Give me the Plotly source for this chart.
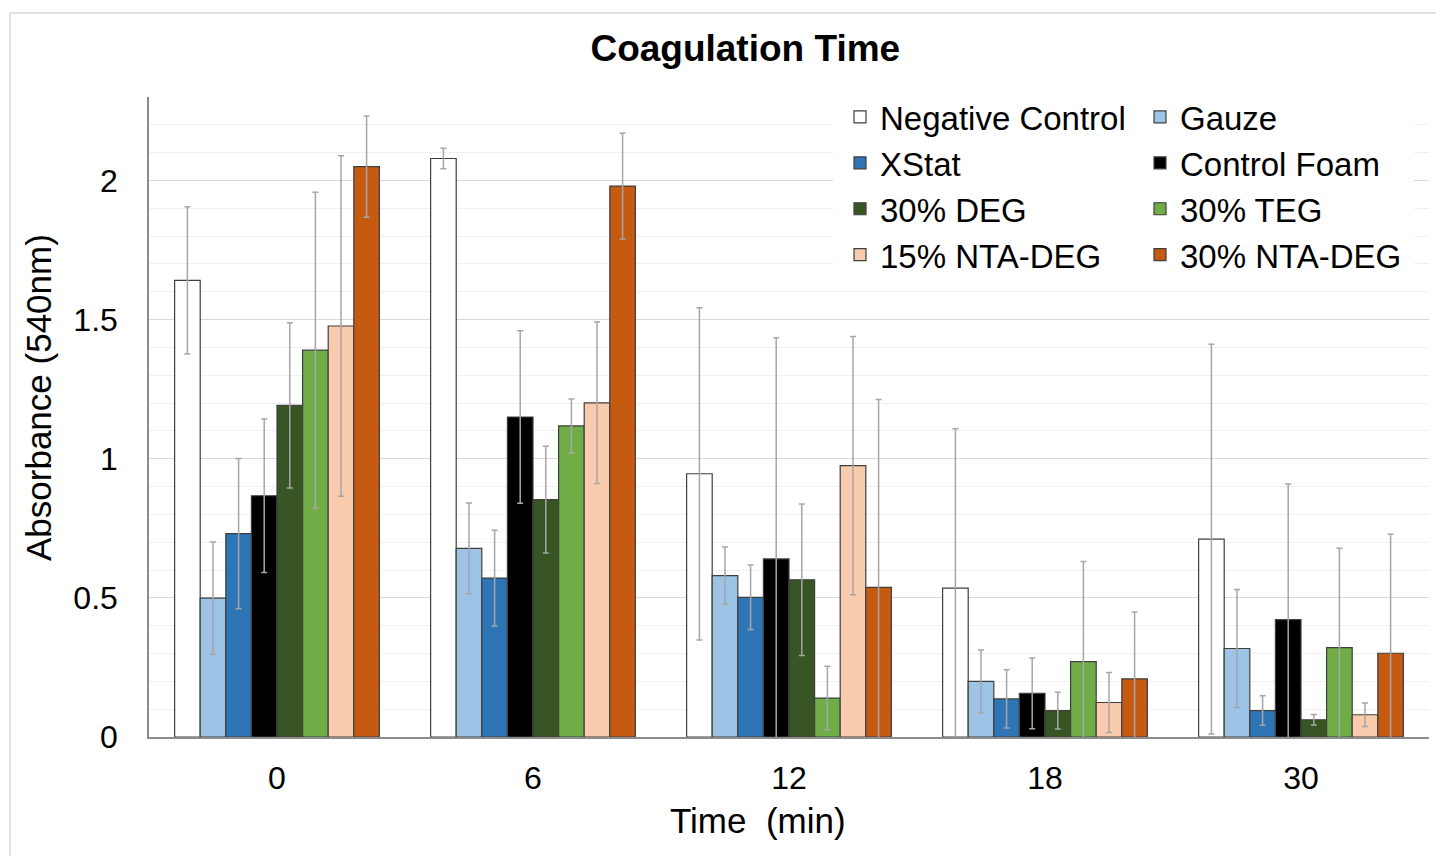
import plotly.graph_objects as go

times = ["0", "6", "12", "18", "30"]
series = ["Negative Control", "Gauze", "XStat", "Control Foam",
          "30% DEG", "30% TEG", "15% NTA-DEG", "30% NTA-DEG"]

neg_control = [1.641, 2.079, 0.946, 0.535, 0.711]
gauze = [0.499, 0.678, 0.580, 0.200, 0.318]
xstat = [0.731, 0.571, 0.502, 0.137, 0.095]
control_foam = [0.867, 1.150, 0.640, 0.157, 0.422]
deg30 = [1.192, 0.853, 0.565, 0.095, 0.062]
teg30 = [1.390, 1.118, 0.140, 0.271, 0.321]
nta15 = [1.477, 1.201, 0.975, 0.124, 0.080]
nta30 = [2.050, 1.980, 0.538, 0.209, 0.301]

neg_control_err = [0.265, 0.037, 0.597, 0.573, 0.700]
gauze_err = [0.202, 0.163, 0.103, 0.113, 0.212]
xstat_err = [0.270, 0.172, 0.116, 0.105, 0.053]
control_foam_err = [0.276, 0.310, 0.795, 0.127, 0.487]
deg30_err = [0.297, 0.192, 0.272, 0.066, 0.019]
teg30_err = [0.568, 0.097, 0.114, 0.360, 0.357]
nta15_err = [0.612, 0.290, 0.464, 0.108, 0.042]
nta30_err = [0.182, 0.190, 0.675, 0.240, 0.428]

values = [neg_control, gauze, xstat, control_foam, deg30, teg30, nta15, nta30]
errors = [neg_control_err, gauze_err, xstat_err, control_foam_err,
          deg30_err, teg30_err, nta15_err, nta30_err]
colors = ["#FFFFFF", "#9DC3E6", "#2E75B6", "#000000",
          "#375623", "#70AD47", "#F8CBAD", "#C55A11"]
# legend column for each series (two-column legend, filled row by row)
legend_ids = ["legend", "legend2", "legend", "legend2",
              "legend", "legend2", "legend", "legend2"]

FONT = "Liberation Sans, Arial, sans-serif"

fig = go.Figure()
for name, vals, errs, col, lg in zip(series, values, errors, colors, legend_ids):
    fig.add_trace(go.Bar(
        name=name, x=times, y=vals, legend=lg,
        marker=dict(color=col, line=dict(color="#3F3F3F", width=1.2)),
        error_y=dict(type="data", array=errs, visible=True,
                     color="#A6A6A6", thickness=1.5, width=3),
    ))

BW = 7
legend_common = dict(orientation="v", yanchor="top", xanchor="left",
                     bgcolor="white", font=dict(size=33, family=FONT),
                     traceorder="normal", borderwidth=BW, bordercolor="white")

fig.update_layout(
    width=1436, height=856,
    margin=dict(l=149, r=7, t=97, b=119),
    paper_bgcolor="white", plot_bgcolor="white",
    barmode="group", bargap=0.2, bargroupgap=0,
    font=dict(family=FONT, color="#000000", size=32),
    title=dict(text="<b>Coagulation Time</b>", x=0.519, xanchor="center",
               y=0.944, yanchor="middle", font=dict(size=37, family=FONT)),
    legend=dict(x=(840 - BW - 149) / 1280, y=1.0125 + BW / 640, **legend_common),
    legend2=dict(x=(1140 - BW - 149) / 1280, y=1.0125 + BW / 640, **legend_common),
    xaxis=dict(type="category", showline=True, linecolor="#8C8C8C", linewidth=1.5,
               ticks="", tickfont=dict(size=32), ticklabelstandoff=12,
               showgrid=False),
    yaxis=dict(range=[0, 2.3], dtick=0.5, showline=True, linecolor="#8C8C8C",
               linewidth=1.5, ticks="", tickfont=dict(size=32), ticklabelstandoff=23,
               showgrid=True, gridcolor="#D9D9D9", gridwidth=1,
               minor=dict(dtick=0.1, showgrid=True, gridcolor="#F0F0F0", gridwidth=1),
               zeroline=False),
    annotations=[
        dict(text="Absorbance (540nm)", textangle=-90, showarrow=False,
             xref="paper", yref="paper",
             x=(38 - 149) / 1280, y=(737 - 398) / 640,
             xanchor="center", yanchor="middle",
             font=dict(size=35, family=FONT, color="#000000")),
        dict(text="Time\u00a0 (min)", showarrow=False,
             xref="paper", yref="paper",
             x=(758 - 149) / 1280, y=(737 - 820) / 640,
             xanchor="center", yanchor="middle",
             font=dict(size=35, family=FONT, color="#000000")),
    ],
    shapes=[dict(type="rect", xref="paper", yref="paper",
                 x0=(10 - 149) / 1280, x1=1.05, y0=-0.3, y1=(737 - 13) / 640,
                 line=dict(color="#D9D9D9", width=1.5), layer="below")],
)

fig.write_html("out.html")
